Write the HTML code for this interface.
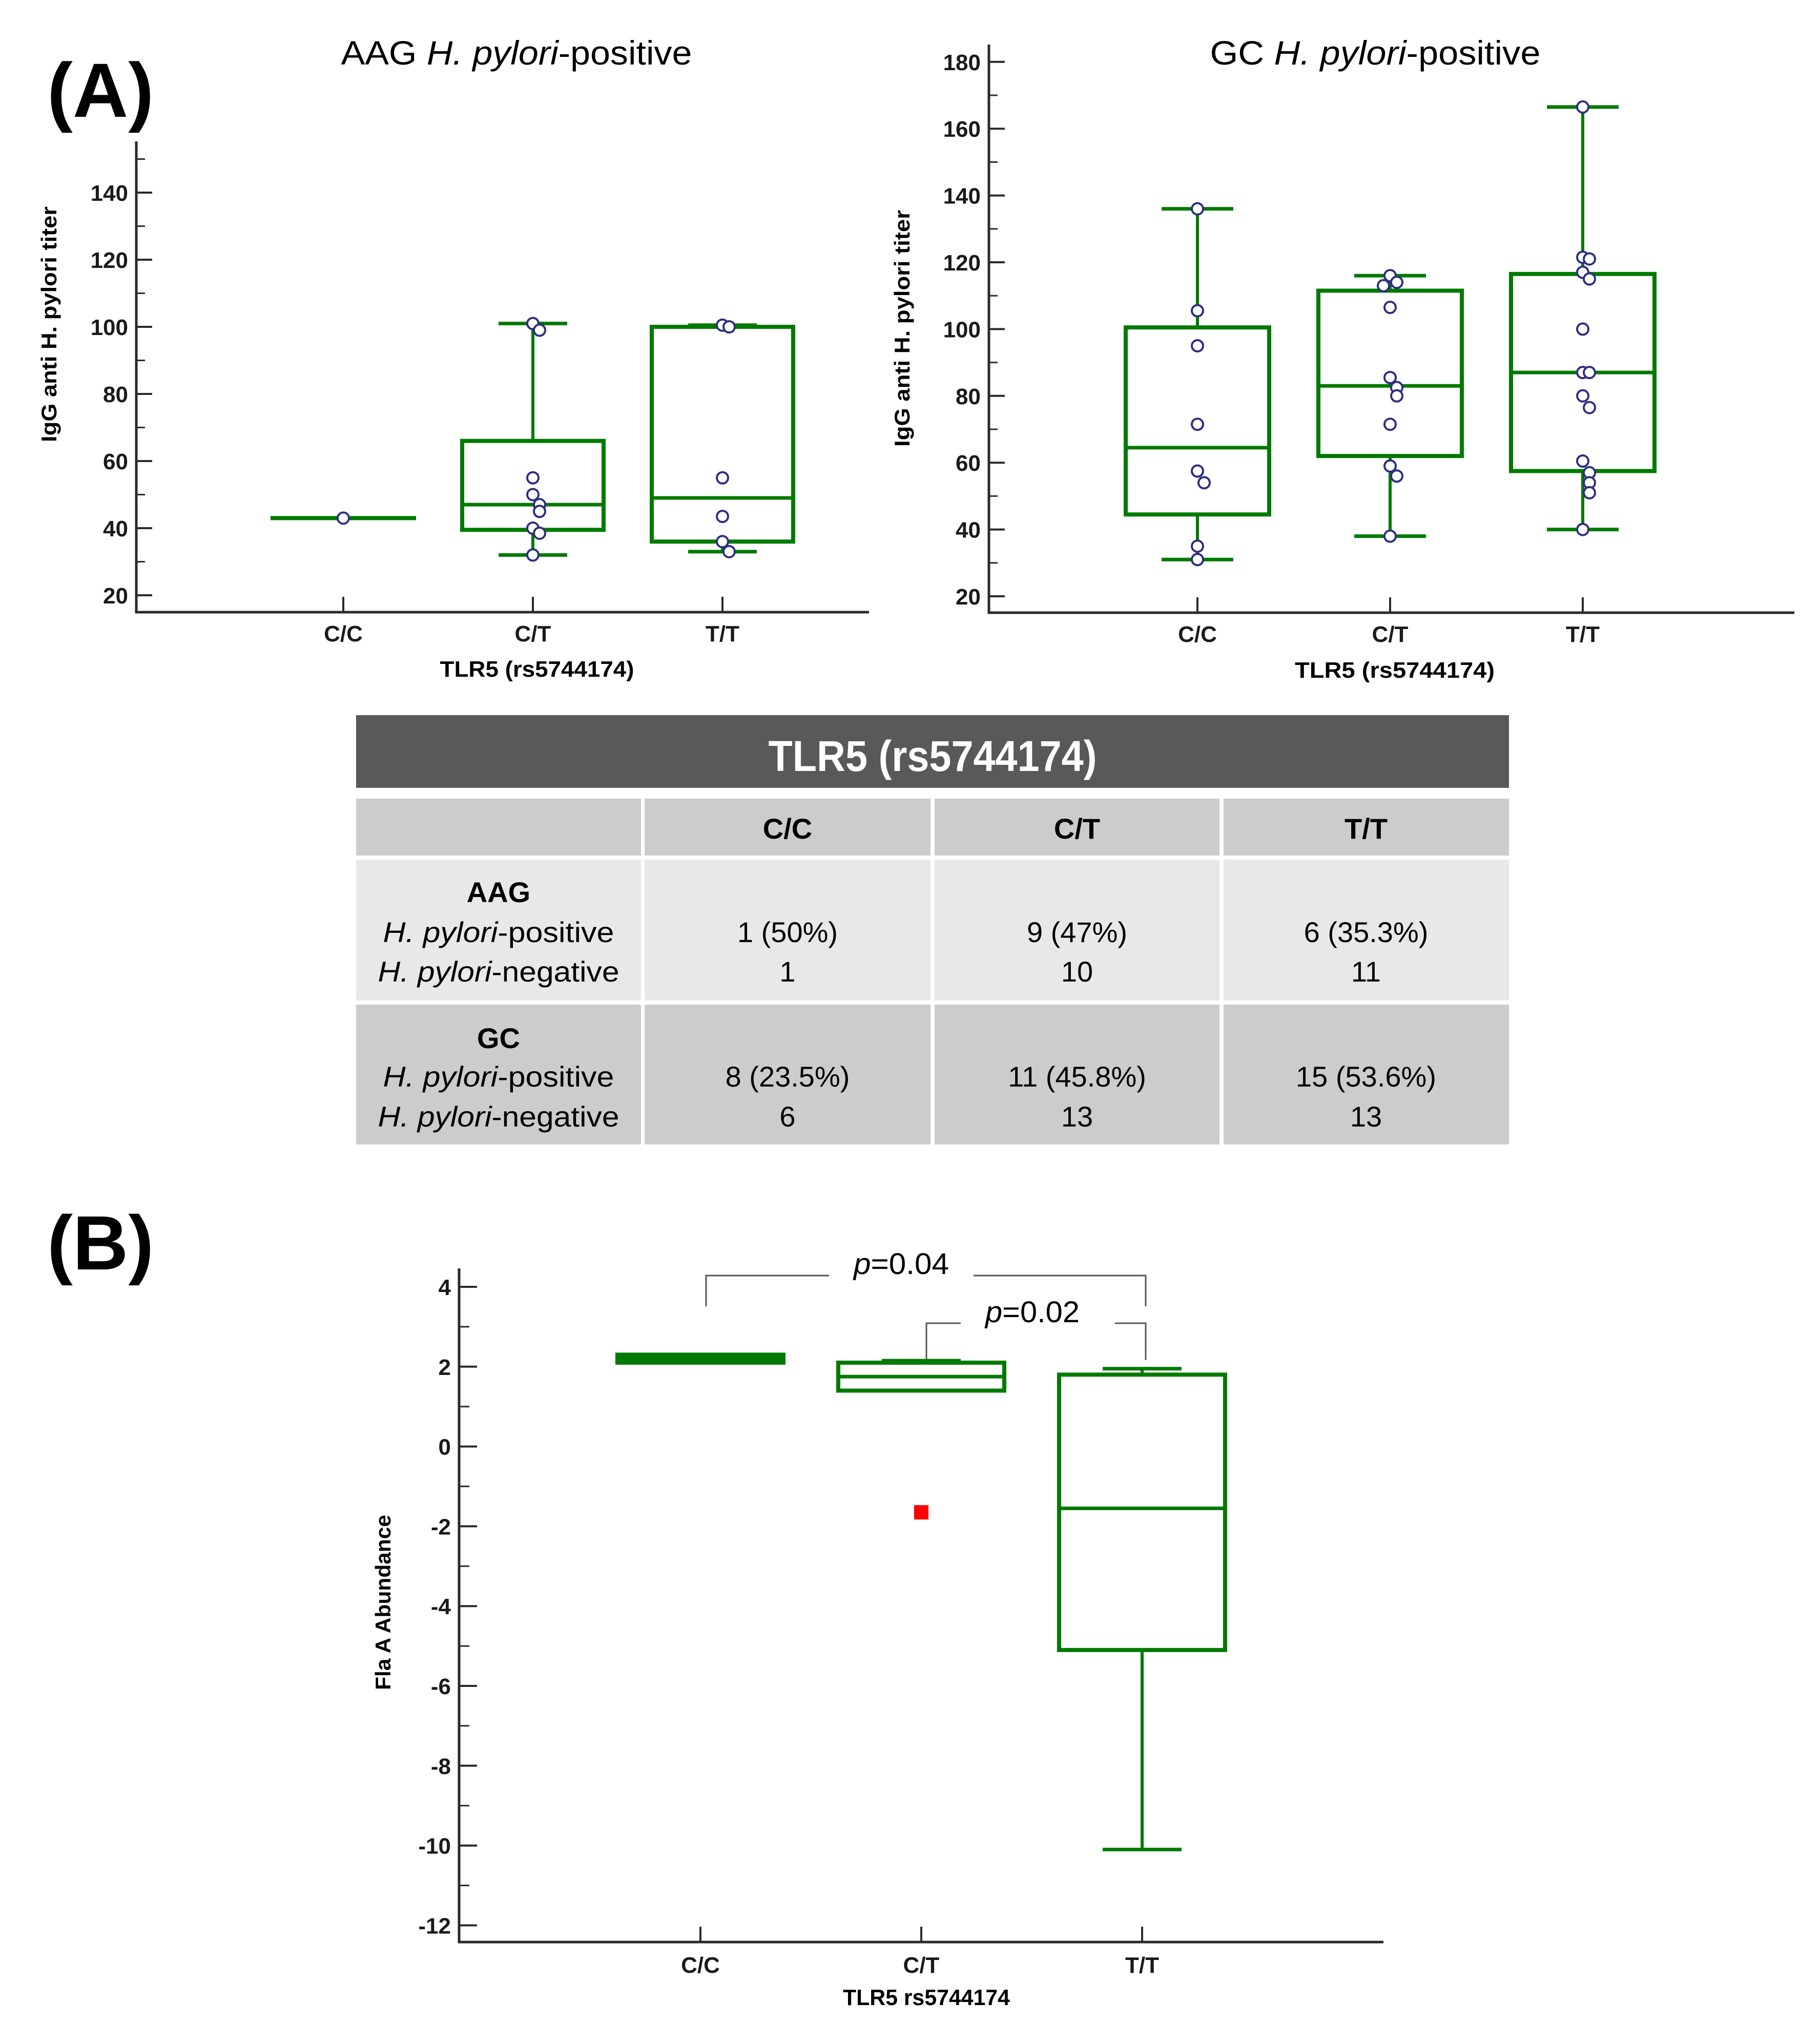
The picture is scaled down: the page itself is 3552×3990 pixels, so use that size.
<!DOCTYPE html>
<html><head><meta charset="utf-8"><style>
html,body{margin:0;padding:0;background:#fff}
svg{display:block}
text{font-family:"Liberation Sans",sans-serif}
</style></head><body>
<svg id="fig" xmlns="http://www.w3.org/2000/svg" width="3552" height="3990" viewBox="0 0 3552 3990">
<rect width="3552" height="3990" fill="#fff"/>
<text x="92" y="228" font-size="150" font-weight="bold">(A)</text>
<text x="92" y="2478" font-size="150" font-weight="bold">(B)</text>
<text x="1008" y="126" font-size="66" text-anchor="middle" textLength="685" lengthAdjust="spacingAndGlyphs">AAG <tspan font-style="italic">H. pylori</tspan>-positive</text>
<text x="2684" y="126" font-size="66" text-anchor="middle" textLength="645" lengthAdjust="spacingAndGlyphs">GC <tspan font-style="italic">H. pylori</tspan>-positive</text>

<g>
<rect x="695" y="1396" width="2250" height="142" fill="#595959"/>
<text x="1820" y="1505" font-size="84" font-weight="bold" fill="#fff" text-anchor="middle" textLength="641" lengthAdjust="spacingAndGlyphs">TLR5 (rs5744174)</text>
<g fill="#cccccc">
<rect x="695" y="1559" width="556" height="111"/><rect x="1258" y="1559" width="558" height="111"/><rect x="1824" y="1559" width="556" height="111"/><rect x="2388" y="1559" width="557" height="111"/>
</g>
<g fill="#e8e8e8">
<rect x="695" y="1678" width="556" height="275"/><rect x="1258" y="1678" width="558" height="275"/><rect x="1824" y="1678" width="556" height="275"/><rect x="2388" y="1678" width="557" height="275"/>
</g>
<g fill="#cccccc">
<rect x="695" y="1961" width="556" height="273"/><rect x="1258" y="1961" width="558" height="273"/><rect x="1824" y="1961" width="556" height="273"/><rect x="2388" y="1961" width="557" height="273"/>
</g>
<g font-size="56" text-anchor="middle" fill="#000">
<text x="1537" y="1637" font-weight="bold">C/C</text>
<text x="2102" y="1637" font-weight="bold">C/T</text>
<text x="2666" y="1637" font-weight="bold">T/T</text>
<text x="973" y="1761" font-weight="bold">AAG</text>
<text x="973" y="1839" textLength="451" lengthAdjust="spacingAndGlyphs"><tspan font-style="italic">H. pylori</tspan>-positive</text>
<text x="973" y="1916" textLength="471" lengthAdjust="spacingAndGlyphs"><tspan font-style="italic">H. pylori</tspan>-negative</text>
<text x="1537" y="1839">1 (50%)</text><text x="1537" y="1916">1</text>
<text x="2102" y="1839">9 (47%)</text><text x="2102" y="1916">10</text>
<text x="2666" y="1839">6 (35.3%)</text><text x="2666" y="1916">11</text>
<text x="973" y="2046" font-weight="bold">GC</text>
<text x="973" y="2121" textLength="451" lengthAdjust="spacingAndGlyphs"><tspan font-style="italic">H. pylori</tspan>-positive</text>
<text x="973" y="2199" textLength="471" lengthAdjust="spacingAndGlyphs"><tspan font-style="italic">H. pylori</tspan>-negative</text>
<text x="1537" y="2121">8 (23.5%)</text><text x="1537" y="2199">6</text>
<text x="2102" y="2121">11 (45.8%)</text><text x="2102" y="2199">13</text>
<text x="2666" y="2121">15 (53.6%)</text><text x="2666" y="2199">13</text>
</g>
</g>

<g stroke="#555" stroke-width="3" fill="none">
<polyline points="1378,2550 1378,2490 1618,2490"/>
<polyline points="1900,2490 2236,2490 2236,2550"/>
<polyline points="1808,2655 1808,2583 1875,2583"/>
<polyline points="2176,2583 2236,2583 2236,2655"/>
</g>
<text x="1666" y="2487" font-size="58" textLength="186" lengthAdjust="spacingAndGlyphs"><tspan font-style="italic">p</tspan>=0.04</text>
<text x="1923" y="2581" font-size="58" textLength="184" lengthAdjust="spacingAndGlyphs"><tspan font-style="italic">p</tspan>=0.02</text>
<g id="charts"></g>
</svg>
<script>
// ---- Chart A1 data (AAG H. pylori-positive) ----
const a1Categories = ["C/C", "C/T", "T/T"];
const a1Q1 = [43, 39.5, 36];
const a1Median = [43, 47, 49];
const a1Q3 = [43, 66, 100];
const a1WhiskerLow = [43, 32, 33];
const a1WhiskerHigh = [43, 101, 100.5];
const a1PointsCC = [43];
const a1PointsCT = [101, 99, 55, 50, 47, 45, 40, 38.5, 32];
const a1PointsTT = [100.5, 100, 55, 43.5, 36, 33];
const a1Ticks = [20, 40, 60, 80, 100, 120, 140];

// ---- Chart A2 data (GC H. pylori-positive) ----
const a2Categories = ["C/C", "C/T", "T/T"];
const a2Q1 = [44.5, 62, 57.5];
const a2Median = [64.5, 83, 87];
const a2Q3 = [100.5, 111.5, 116.5];
const a2WhiskerLow = [31, 38, 40];
const a2WhiskerHigh = [136, 116, 166.5];
const a2PointsCC = [136, 105.5, 95, 71.5, 57.5, 54, 35, 31];
const a2PointsCT = [116, 114, 113, 106.5, 85.5, 82.5, 80, 71.5, 59, 56, 38];
const a2PointsTT = [166.5, 121.5, 121, 117, 115, 100, 87, 87, 80, 76.5, 60.5, 57, 54, 51, 40];
const a2Ticks = [20, 40, 60, 80, 100, 120, 140, 160, 180];

// ---- Chart B data (Fla A abundance) ----
const bCategories = ["C/C", "C/T", "T/T"];
const bQ1 = [2.1, 1.4, -5.1];
const bMedian = [2.2, 1.75, -1.55];
const bQ3 = [2.3, 2.1, 1.8];
const bWhiskerLow = [2.1, 1.4, -10.1];
const bWhiskerHigh = [2.3, 2.15, 1.95];
const bOutliers = [[], [-1.65], []];
const bTicks = [4, 2, 0, -2, -4, -6, -8, -10, -12];

const NS = "http://www.w3.org/2000/svg";
const root = document.getElementById("charts");
const GREEN = "#007a00";
function mk(tag, attrs, parent) {
  const e = document.createElementNS(NS, tag);
  for (const k in attrs) e.setAttribute(k, attrs[k]);
  (parent || root).appendChild(e);
  return e;
}

function drawChart(c) {
  const g = mk("g", {});
  
  
  const y = v => c.y0 - (v - c.v0) * c.pxPerUnit;
  const x = i => c.catX0 + i * c.catStep;
  const ya = mk("line", {x1: c.axisX, y1: c.axisTop, x2: c.axisX, y2: c.axisY + 2, stroke: "#2a2a2a", "stroke-width": 5}, g);
  
  
  const xa = mk("line", {x1: c.axisX - 2, y1: c.axisY, x2: c.axisRight, y2: c.axisY, stroke: "#2a2a2a", "stroke-width": 5}, g);
  
  
  c.ticks.forEach(t => {
    mk("line", {x1: c.axisX, y1: y(t), x2: c.axisX + c.majorLen, y2: y(t), stroke: "#2a2a2a", "stroke-width": 4}, g);
    const lb = mk("text", {x: c.axisX - 16, y: y(t) + 16, "font-size": 44, "font-weight": "bold", "text-anchor": "end", fill: "#1a1a1a"}, g);
    
    
    lb.textContent = t;
  });
  const step = c.ticks[1] - c.ticks[0];
  c.ticks.forEach(t => {
    const m = t + step / 2;
    if (y(m) > c.axisTop + 5 && y(m) < c.axisY - 5)
      mk("line", {x1: c.axisX, y1: y(m), x2: c.axisX + c.minorLen, y2: y(m), stroke: "#2a2a2a", "stroke-width": 3}, g);
  });
  const yt = mk("text", {x: 0, y: 0, "font-size": 42, "font-weight": "bold", "text-anchor": "middle", textLength: c.yTitleLen, lengthAdjust: "spacingAndGlyphs", transform: `translate(${c.yTitleX},${c.yTitleY}) rotate(-90)`}, g);
  
  
  yt.textContent = c.yTitle;
  c.categories.forEach((cat, i) => {
    mk("line", {x1: x(i), y1: c.axisY, x2: x(i), y2: c.axisY - 30, stroke: "#2a2a2a", "stroke-width": 4}, g);
    const t = mk("text", {x: x(i), y: c.catLabelY, "font-size": 44, "font-weight": "bold", "text-anchor": "middle", fill: "#1a1a1a"}, g);
    
    
    t.textContent = cat;
  });
  const xt = mk("text", {x: c.xTitleX, y: c.xTitleY, "font-size": 44, "font-weight": "bold", "text-anchor": "middle", textLength: c.xTitleLen, lengthAdjust: "spacingAndGlyphs"}, g);
  
  
  xt.textContent = c.xTitle;
  c.categories.forEach((cat, i) => {
    const bg = mk("g", {}, g);
    
    
    const cx = x(i);
    mk("line", {x1: cx, y1: y(c.q3[i]), x2: cx, y2: y(c.wHigh[i]), stroke: GREEN, "stroke-width": 6}, bg);
    mk("line", {x1: cx, y1: y(c.q1[i]), x2: cx, y2: y(c.wLow[i]), stroke: GREEN, "stroke-width": 6}, bg);
    mk("line", {x1: cx - c.capHalf, y1: y(c.wHigh[i]), x2: cx + c.capHalf, y2: y(c.wHigh[i]), stroke: GREEN, "stroke-width": 7}, bg);
    mk("line", {x1: cx - c.capHalf, y1: y(c.wLow[i]), x2: cx + c.capHalf, y2: y(c.wLow[i]), stroke: GREEN, "stroke-width": 7}, bg);
    const h = Math.max(0.1, y(c.q1[i]) - y(c.q3[i]));
    mk("rect", {x: cx - c.boxHalf, y: y(c.q3[i]), width: 2 * c.boxHalf, height: h, fill: h < 20 ? GREEN : "none", stroke: GREEN, "stroke-width": 8}, bg);
    mk("line", {x1: cx - c.boxHalf, y1: y(c.med[i]), x2: cx + c.boxHalf, y2: y(c.med[i]), stroke: GREEN, "stroke-width": 7}, bg);
    (c.points ? c.points[i] : []).forEach((v, j, arr) => {
      let n = 0;
      for (let k = 0; k < j; k++) if (Math.abs(arr[k] - v) < 4) n++;
      const off = n === 0 ? 0 : (n % 2 ? 1 : -1) * 13 * Math.ceil(n / 2);
      const p = mk("circle", {cx: cx + off, cy: y(v), r: 11, fill: "#fff", stroke: "#2e2e80", "stroke-width": 4}, bg);
      
      
    });
    (c.outliers ? c.outliers[i] : []).forEach(v => {
      const o = mk("rect", {x: cx - 14, y: y(v) - 14, width: 28, height: 28, fill: "#ff0000"}, bg);
      
      
    });
  });
}

drawChart({name: "chart-a1-aag", y0: 1162, v0: 20, pxPerUnit: 6.55, axisX: 266, axisTop: 276, axisY: 1195, axisRight: 1696,
  catX0: 670, catStep: 370, majorLen: 31, minorLen: 17, ticks: a1Ticks, categories: a1Categories,
  q1: a1Q1, med: a1Median, q3: a1Q3, wLow: a1WhiskerLow, wHigh: a1WhiskerHigh, points: [a1PointsCC, a1PointsCT, a1PointsTT],
  boxHalf: 138, capHalf: 67, yTitle: "IgG anti H. pylori titer", yTitleX: 110, yTitleY: 633, yTitleLen: 460,
  catLabelY: 1252, xTitle: "TLR5 (rs5744174)", xTitleX: 1048, xTitleY: 1321, xTitleLen: 379});

drawChart({name: "chart-a2-gc", y0: 1164, v0: 20, pxPerUnit: 6.52, axisX: 1930, axisTop: 87, axisY: 1196, axisRight: 3502,
  catX0: 2337, catStep: 376, majorLen: 31, minorLen: 17, ticks: a2Ticks, categories: a2Categories,
  q1: a2Q1, med: a2Median, q3: a2Q3, wLow: a2WhiskerLow, wHigh: a2WhiskerHigh, points: [a2PointsCC, a2PointsCT, a2PointsTT],
  boxHalf: 140, capHalf: 70, yTitle: "IgG anti H. pylori titer", yTitleX: 1775, yTitleY: 641, yTitleLen: 462,
  catLabelY: 1253, xTitle: "TLR5 (rs5744174)", xTitleX: 2722, xTitleY: 1323, xTitleLen: 390});

drawChart({name: "chart-b-fla-a", y0: 2512, v0: 4, pxPerUnit: 77.9, axisX: 896, axisTop: 2476, axisY: 3791, axisRight: 2700,
  catX0: 1367, catStep: 431, majorLen: 35, minorLen: 20, ticks: bTicks, categories: bCategories,
  q1: bQ1, med: bMedian, q3: bQ3, wLow: bWhiskerLow, wHigh: bWhiskerHigh, outliers: bOutliers,
  boxHalf: 162, capHalf: 77, yTitle: "Fla A Abundance", yTitleX: 762, yTitleY: 3128, yTitleLen: 342,
  catLabelY: 3851, xTitle: "TLR5 rs5744174", xTitleX: 1808, xTitleY: 3914, xTitleLen: 326});
</script>
</body></html>
